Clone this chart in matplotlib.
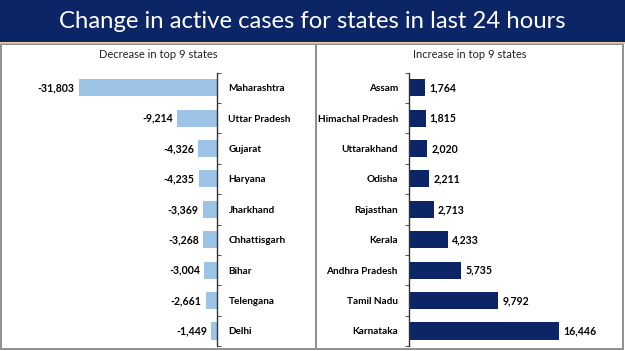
import matplotlib
matplotlib.use("Agg")
import matplotlib.pyplot as plt
from matplotlib.patches import Rectangle
from matplotlib.lines import Line2D

# ---- data ----
dec_states = ["Maharashtra", "Uttar Pradesh", "Gujarat", "Haryana", "Jharkhand",
              "Chhattisgarh", "Bihar", "Telengana", "Delhi"]
dec_values = [-31803, -9214, -4326, -4235, -3369, -3268, -3004, -2661, -1449]

inc_states = ["Assam", "Himachal Pradesh", "Uttarakhand", "Odisha", "Rajasthan",
              "Kerala", "Andhra Pradesh", "Tamil Nadu", "Karnataka"]
inc_values = [1764, 1815, 2020, 2211, 2713, 4233, 5735, 9792, 16446]

title = "Change in active cases for states in last 24 hours"
left_title = "Decrease in top 9 states"
right_title = "Increase in top 9 states"

W, H = 625, 351
NAVY = "#0b2566"
LIGHT = "#9dc3e6"
BORDER = "#8f8f8f"
FONT = "Lato"

fig = plt.figure(figsize=(W / 100, H / 100), dpi=100)


def fx(x):
    return x / W


def fy(y):
    return 1 - y / H


# banner
fig.patches.append(Rectangle((0, fy(42)), 1, 42 / H, transform=fig.transFigure,
                             facecolor=NAVY, edgecolor="none", zorder=0))
fig.lines.append(Line2D([0, 1], [fy(43), fy(43)], transform=fig.transFigure,
                        color="#e9b98c", lw=1.1))
fig.text(0.5, fy(22), title, ha="center", va="center", color="white",
         fontsize=17.2, family=FONT)

# panel borders
for x0, x1 in [(1, 316), (316, 623)]:
    fig.patches.append(Rectangle((fx(x0), fy(349)), fx(x1 - x0), (349 - 44) / H,
                                 transform=fig.transFigure, facecolor="none",
                                 edgecolor=BORDER, lw=1.4, zorder=1))

fig.text(fx(158.5), fy(55), left_title, ha="center", va="center", fontsize=8,
         family=FONT, color="#222222")
fig.text(fx(469.5), fy(55), right_title, ha="center", va="center", fontsize=8,
         family=FONT, color="#222222")

ytop, ybot = 72.5, 346.2
n = len(dec_states)
pos = list(range(n))

# left axes
lx0, lx1 = 10, 217.3
axL = fig.add_axes([fx(lx0), fy(ybot), fx(lx1 - lx0), (ybot - ytop) / H])
axL.barh(pos, dec_values, height=0.56, color=LIGHT)
axL.set_xlim(min(dec_values) * (lx1 - lx0) / (217.3 - 78.7), 0)
axL.set_ylim(n - 0.5, -0.5)
for s in ["top", "bottom", "left"]:
    axL.spines[s].set_visible(False)
axL.spines["right"].set_color("#333333")
axL.spines["right"].set_linewidth(1.0)
axL.set_xticks([])
axL.yaxis.tick_right()
axL.set_yticks(pos)
axL.set_yticklabels(dec_states, fontsize=7.2, fontweight="bold", family=FONT)
axL.tick_params(axis="y", which="major", length=0, pad=8)
axL.set_yticks([p - 0.5 for p in pos] + [n - 0.5], minor=True)
axL.tick_params(axis="y", which="minor", length=3, direction="out", color="#333333")
axL.patch.set_alpha(0)
for p, v in zip(pos, dec_values):
    axL.annotate(f"{v:,}", (v, p), xytext=(-3, 0), textcoords="offset points",
                 ha="right", va="center", fontsize=7.6, fontweight="bold", family=FONT)

# right axes
rx0, rx1 = 409, 615
axR = fig.add_axes([fx(rx0), fy(ybot), fx(rx1 - rx0), (ybot - ytop) / H])
axR.barh(pos, inc_values, height=0.56, color=NAVY)
axR.set_xlim(0, max(inc_values) * (rx1 - rx0) / (559 - 409))
axR.set_ylim(n - 0.5, -0.5)
for s in ["top", "bottom", "right"]:
    axR.spines[s].set_visible(False)
axR.spines["left"].set_color("#333333")
axR.spines["left"].set_linewidth(1.0)
axR.set_xticks([])
axR.set_yticks(pos)
axR.set_yticklabels(inc_states, fontsize=7.2, fontweight="bold", family=FONT)
axR.tick_params(axis="y", which="major", length=0, pad=8)
axR.set_yticks([p - 0.5 for p in pos] + [n - 0.5], minor=True)
axR.tick_params(axis="y", which="minor", length=3, direction="out", color="#333333")
axR.patch.set_alpha(0)
for p, v in zip(pos, inc_values):
    axR.annotate(f"{v:,}", (v, p), xytext=(3, 0), textcoords="offset points",
                 ha="left", va="center", fontsize=7.6, fontweight="bold", family=FONT)

fig.savefig("out.png", dpi=100)
